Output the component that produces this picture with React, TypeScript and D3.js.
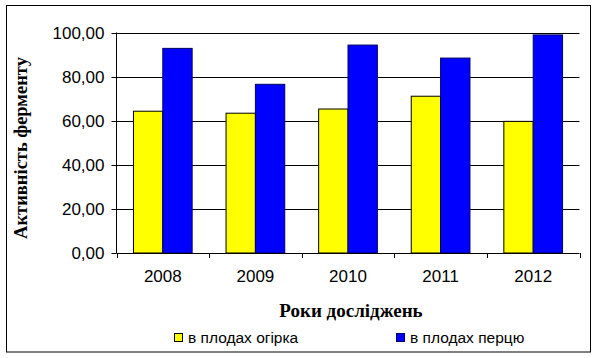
import React from "react";
import * as d3 from "d3";

const years = ["2008", "2009", "2010", "2011", "2012"];
const cucumber = [64.3, 63.4, 65.3, 71.1, 59.7];
const pepper = [92.8, 76.5, 94.3, 88.4, 98.9];
const yTicks = [0, 20, 40, 60, 80, 100];
const seriesNames = ["в плодах огірка", "в плодах перцю"];
const seriesColors = ["#FFFF00", "#0000FF"];
const seriesStroke = ["#000000", "#000066"];

export default function App() {
  const W = 598, H = 358;
  const left = 116.5, right = 579.5, top = 32.5, bottom = 253;
  const x = d3.scaleBand<string>().domain(years).range([left, right]).paddingInner(0).paddingOuter(0);
  const y = d3.scaleLinear().domain([0, 100]).range([bottom, top]);
  const bw = x.bandwidth();
  const barW = bw * 0.317;
  const fmt = (v: number) => v.toFixed(2).replace(".", ",");
  const series = [cucumber, pepper];

  return (
    <svg width={W} height={H} style={{ position: "fixed", left: 0, top: 0, background: "#fff" }}>
      <rect x={6.5} y={5.5} width={584} height={346.5} fill="#fff" stroke="#000" strokeWidth={1} />
      {yTicks.map((t) => (
        <g key={t}>
          {t > 0 && <line x1={left} x2={right} y1={Math.round(y(t)) + 0.5} y2={Math.round(y(t)) + 0.5} stroke="#000" />}
          <line x1={left - 5} x2={left} y1={Math.round(y(t)) + 0.5} y2={Math.round(y(t)) + 0.5} stroke="#000" />
          <text x={104.5} y={y(t) + 6} textAnchor="end" fontFamily="Liberation Sans, Arial, sans-serif" fontSize={17} fill="#000">
            {fmt(t)}
          </text>
        </g>
      ))}
      {years.map((yr, i) => {
        const cx = (x(yr) as number) + bw / 2;
        return (
          <g key={yr}>
            {series.map((s, k) => (
              <rect
                key={k}
                x={cx - barW + k * barW}
                y={y(s[i])}
                width={barW}
                height={bottom - y(s[i])}
                fill={seriesColors[k]}
                stroke={seriesStroke[k]}
                strokeWidth={1}
              />
            ))}
            <text x={cx} y={282} textAnchor="middle" fontFamily="Liberation Sans, Arial, sans-serif" fontSize={17} fill="#000">
              {yr}
            </text>
          </g>
        );
      })}
      {d3.range(years.length + 1).map((i) => {
        const xx = Math.round(left + i * bw) + 0.5;
        return <line key={i} x1={xx} x2={xx} y1={bottom} y2={bottom + 5} stroke="#000" />;
      })}
      <line x1={left} x2={left} y1={top} y2={bottom} stroke="#000" />
      <line x1={left} x2={right} y1={bottom + 0.5} y2={bottom + 0.5} stroke="#000" />
      <text x={351} y={317} textAnchor="middle" fontFamily="Liberation Serif, Times New Roman, serif" fontWeight="bold" fontSize={19} fill="#000">
        Роки досліджень
      </text>
      <text
        transform="translate(27,148) rotate(-90)"
        textAnchor="middle"
        fontFamily="Liberation Serif, Times New Roman, serif"
        fontWeight="bold"
        fontSize={18.5}
        fill="#000"
      >
        Активність ферменту
      </text>
      {seriesNames.map((n, k) => {
        const lx = k === 0 ? 174.5 : 396.5;
        return (
          <g key={n}>
            <rect x={lx} y={333.5} width={8} height={8} fill={seriesColors[k]} stroke={seriesStroke[k]} />
            <text x={lx + 13.5} y={342.5} fontFamily="Liberation Sans, Arial, sans-serif" fontSize={15.5} fill="#000">
              {n}
            </text>
          </g>
        );
      })}
    </svg>
  );
}
